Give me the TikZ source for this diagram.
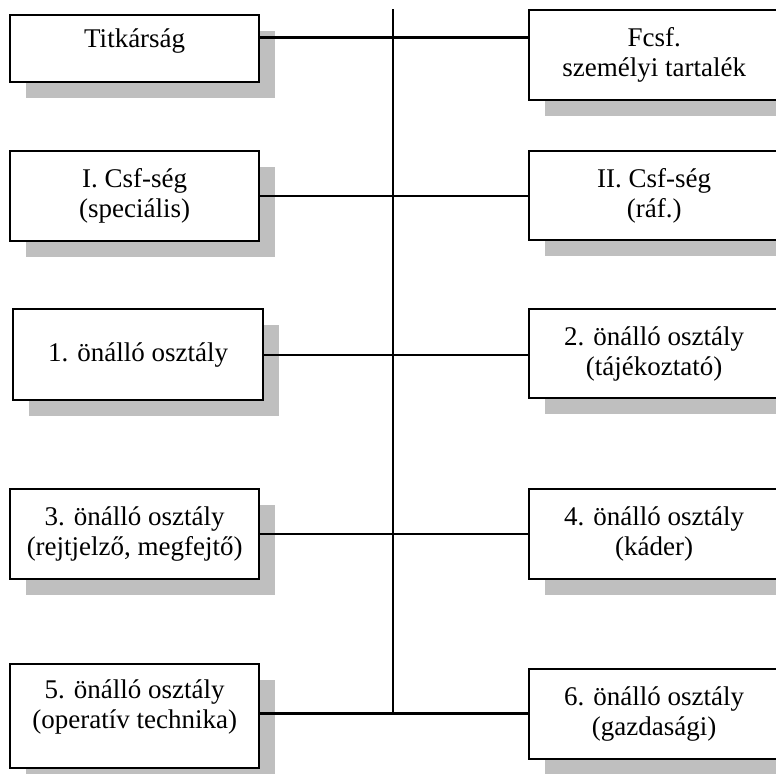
\documentclass[tikz,border=0pt]{standalone}
\usepackage{fontspec}
\setmainfont{Liberation Serif}
\usetikzlibrary{shadows}

\begin{document}
\begin{tikzpicture}[
  x=0.5pt, y=-0.5pt,
  unit/.style={
    rectangle, draw, line width=1.2pt, fill=white,
    align=center, inner sep=2pt, anchor=north west,
    font=\fontsize{13.5}{15}\selectfont,
    drop shadow={shadow xshift=7.75pt, shadow yshift=-7.75pt,
      fill=black!25, opacity=1}
  },
  link/.style={line width=1.2pt}
]
\useasboundingbox (0,0) rectangle (776,773);
\clip (0,0) rectangle (776,773);

% Left column
\node[unit, minimum width=124.5pt, minimum height=33.5pt, text depth=10.3pt] (titk) at (9,14) {Titkárság};
\node[unit, minimum width=124.5pt, minimum height=45pt] (csf1) at (9,150) {I. Csf-ség\\(speciális)};
\node[unit, minimum width=125pt, minimum height=45.5pt] (oo1) at (12,308) {1. önálló osztály};
\node[unit, minimum width=124.5pt, minimum height=45pt] (oo3) at (9,488) {3. önálló osztály\\(rejtjelző, megfejtő)};
\node[unit, minimum width=124.5pt, minimum height=52pt, text depth=11.8pt] (oo5) at (9,663) {5. önálló osztály\\(operatív technika)};

% Right column
\node[unit, minimum width=125pt, minimum height=45pt] (fcsf) at (528,9) {Fcsf.\\személyi tartalék};
\node[unit, minimum width=125pt, minimum height=44.5pt] (csf2) at (528,150) {II. Csf-ség\\(ráf.)};
\node[unit, minimum width=125pt, minimum height=44.5pt] (oo2) at (528,308) {2. önálló osztály\\(tájékoztató)};
\node[unit, minimum width=125pt, minimum height=45pt] (oo4) at (528,488) {4. önálló osztály\\(káder)};
\node[unit, minimum width=125pt, minimum height=45pt] (oo6) at (528,668) {6. önálló osztály\\(gazdasági)};

% Spine and branches
\coordinate (spine-top) at (393,9);
\coordinate (spine-end) at (393,713.5);
\coordinate (row1) at (393,37.5);
\draw[link] (spine-top) -- (spine-end);
\draw[link] (titk.east |- row1) -- (fcsf.west |- row1);
\draw[link] (csf1.east) -- (csf1.east -| csf2.west);
\draw[link] (oo1.east) -- (oo1.east -| oo2.west);
\draw[link] (oo3.east) -- (oo3.east -| oo4.west);
\draw[link] (oo5.east |- spine-end) -- (oo6.west |- spine-end);
\end{tikzpicture}
\end{document}
